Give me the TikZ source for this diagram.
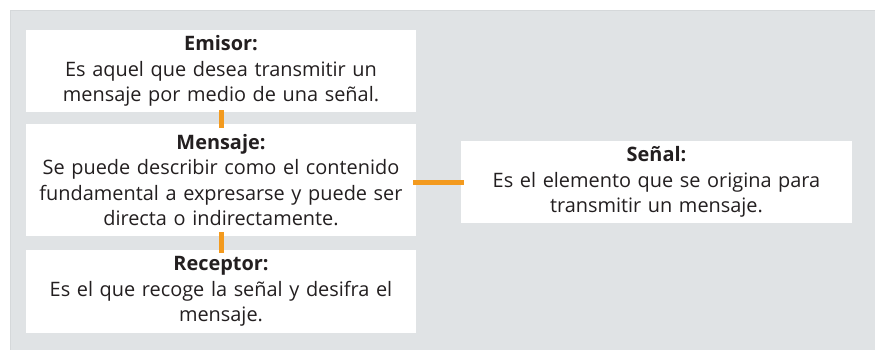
\documentclass[tikz,border=0pt]{standalone}
\usepackage{fontspec}
\setmainfont{Open Sans}
\definecolor{bggray}{HTML}{E0E3E5}
\definecolor{edgegray}{HTML}{D5D8DA}
\definecolor{conorange}{HTML}{F39A1E}
\definecolor{txt}{HTML}{231F20}
\tikzset{
  infobox/.style={fill=white, draw=none, inner sep=0pt, align=center,
    text width=385pt, minimum width=390pt, text=txt,
    font=\fontsize{19.9}{25.5}\selectfont},
  link/.style={conorange, line width=5pt}
}
\begin{document}
\begin{tikzpicture}[x=1pt,y=-1pt]
\useasboundingbox (0,0) rectangle (875,350);
\fill[white] (0,0) rectangle (875,350);
\fill[bggray] (10,10) rectangle (875,350);
\draw[edgegray, line width=1pt] (10.5,350) -- (10.5,10.5) -- (875,10.5);

\node[infobox, minimum height=82pt] (emisor) at (221,71)
  {\textbf{Emisor:}\\Es aquel que desea transmitir un\\mensaje por medio de una señal.};
\node[infobox, minimum height=112pt] (mensaje) at (221,180)
  {\textbf{Mensaje:}\\Se puede describir como el contenido\\fundamental a expresarse y puede ser\\directa o indirectamente.};
\node[infobox, minimum height=83pt] (receptor) at (221,291.5)
  {\textbf{Receptor:}\\Es el que recoge la señal y desifra el\\mensaje.};
\node[infobox, minimum width=391pt, minimum height=82pt] (senal) at (656.5,182)
  {\textbf{Señal:}\\Es el elemento que se origina para\\transmitir un mensaje.};

\draw[link, shorten <=-2pt, shorten >=-4pt] (emisor.south) -- (mensaje.north);
\draw[link, shorten <=-4pt, shorten >=-3pt] (mensaje.south) -- (receptor.north);
\draw[link, shorten <=-3pt, shorten >=-3pt] (mensaje.east |- senal.west) -- (senal.west);
\end{tikzpicture}
\end{document}
